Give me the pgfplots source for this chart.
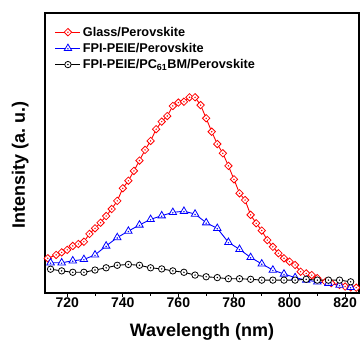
\documentclass[border=0pt]{standalone}
\usepackage{fontspec}
\setmainfont{Liberation Sans}
\usepackage{pgfplots}
\pgfplotsset{compat=1.18}

\pgfdeclareplotmark{dotdiamond}{%
  \pgfpathmoveto{\pgfqpoint{\pgfplotmarksize}{0pt}}%
  \pgfpathlineto{\pgfqpoint{0pt}{\pgfplotmarksize}}%
  \pgfpathlineto{\pgfqpoint{-\pgfplotmarksize}{0pt}}%
  \pgfpathlineto{\pgfqpoint{0pt}{-\pgfplotmarksize}}%
  \pgfpathclose
  \pgfusepathqfillstroke
  \pgfpathcircle{\pgfpointorigin}{0.25pt}%
  \pgfusepathqstroke
}
\pgfdeclareplotmark{dottriangle}{%
  \pgfpathmoveto{\pgfqpointpolar{90}{\pgfplotmarksize}}%
  \pgfpathlineto{\pgfqpointpolar{210}{\pgfplotmarksize}}%
  \pgfpathlineto{\pgfqpointpolar{330}{\pgfplotmarksize}}%
  \pgfpathclose
  \pgfusepathqfillstroke
  \pgfpathcircle{\pgfqpoint{0pt}{-0.1\pgfplotmarksize}}{0.25pt}%
  \pgfusepathqstroke
}
\pgfdeclareplotmark{dotcircle}{%
  \pgfpathcircle{\pgfpointorigin}{\pgfplotmarksize}%
  \pgfusepathqfillstroke
  \pgfpathcircle{\pgfpointorigin}{0.25pt}%
  \pgfusepathqstroke
}

\pgfplotstableread{
x y
713 12.4
716 13.6
718 14.5
720 15.4
722 16.8
724 17.5
726 18.3
728 21.1
730 23.1
732 25.1
734 27.5
736 30.0
738 32.9
740 37.4
742 40.1
744 43.6
746 47.3
748 51.1
750 54.3
752 58.5
754 61.2
756 63.2
758 66.8
760 68.0
762 68.3
764 69.9
766 69.9
768 67.1
770 62.4
772 57.6
774 53.2
776 49.9
778 45.4
780 40.6
782 35.6
784 33.2
786 27.9
788 24.9
790 22.3
792 18.9
794 16.5
796 14.2
798 12.4
800 11.2
802 10.0
804 7.6
806 7.0
808 6.4
810 5.3
813 4.0
815 3.5
818 2.9
820 2.3
822 2.0
824 1.9
}\glass

\pgfplotstableread{
x y
714 10.8
718 10.8
722 11.5
726 12.0
730 13.6
734 16.8
738 19.8
742 22.1
746 24.3
750 26.3
754 27.6
758 28.8
762 29.2
766 28.2
770 25.1
774 23.1
778 18.1
782 15.6
786 12.7
790 10.4
794 8.2
798 6.8
802 5.5
806 4.6
810 4.0
814 3.5
818 2.8
822 2.0
}\peie

\pgfplotstableread{
x y
714 8.5
718 7.9
722 7.4
726 7.4
730 8.2
734 9.0
738 9.9
742 10.2
746 9.9
750 9.0
754 8.6
758 7.9
762 7.4
766 6.4
770 5.8
774 5.5
778 5.1
782 5.1
786 4.9
790 4.6
794 4.6
798 4.6
802 4.6
806 4.9
810 4.6
814 4.6
818 4.6
822 4.0
}\pcbm

\begin{document}
\begin{tikzpicture}
\begin{axis}[
  scale only axis,
  width=314pt, height=280pt,
  xmin=712, xmax=825,
  ymin=0, ymax=100,
  ytick=\empty,
  xtick={720,740,760,780,800,820},
  minor xtick={710,730,750,770,790,810},
  xtick pos=bottom,
  tick align=outside,
  major tick length=4pt,
  minor tick length=2.5pt,
  every tick/.style={black, line width=1pt},
  axis line style={line width=1.2pt},
  /pgf/number format/assume math mode=true,
  /pgf/number format/1000 sep={},
  xticklabel style={font=\bfseries\fontsize{14}{14}\selectfont, inner sep=1pt},
  xlabel={Wavelength (nm)},
  ylabel={Intensity (a.~u.)},
  xlabel style={font=\bfseries\fontsize{18}{18}\selectfont, at={(axis description cs:0.5,-0.156)}, anchor=base},
  ylabel style={font=\bfseries\fontsize{18}{18}\selectfont, at={(axis description cs:-0.0637,0.457)}, anchor=base, rotate=0},
  legend style={at={(0.028,0.962)}, anchor=north west, draw=none, fill=none,
    font=\bfseries\fontsize{12.7}{12.7}\selectfont, row sep=1.5pt, inner sep=1pt},
  legend cell align=left,
  legend image code/.code={\draw[mark repeat=2,mark phase=2,#1] plot coordinates {(0pt,0pt)(12.5pt,0pt)(25pt,0pt)};},
]
\addplot[red, line width=0.9pt, mark=dotdiamond, mark size=3.7pt, mark options={fill=white, line width=0.8pt}] table {\glass};
\addlegendentry{Glass/Perovskite}
\addplot[blue, line width=0.9pt, mark=dottriangle, mark size=4.3pt, mark options={fill=white, line width=0.8pt}] table {\peie};
\addlegendentry{FPI-PEIE/Perovskite}
\addplot[black, line width=0.9pt, mark=dotcircle, mark size=3.2pt, mark options={fill=white, line width=0.8pt}] table {\pcbm};
\addlegendentry{FPI-PEIE/PC\textsubscript{61}BM/Perovskite}
\end{axis}
\pgfresetboundingbox
\path ([shift={(-45pt,-49pt)}]current axis.south west) rectangle ([shift={(1pt,13pt)}]current axis.north east);
\end{tikzpicture}
\end{document}
